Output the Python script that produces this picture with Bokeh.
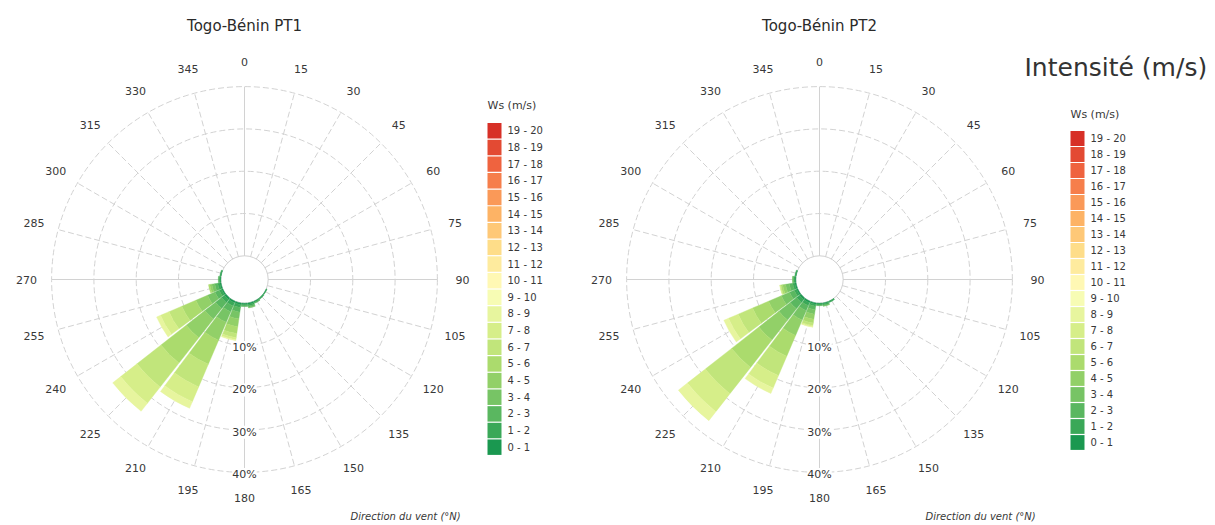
import math

from bokeh.core.properties import value
from bokeh.embed import file_html
from bokeh.models import ColumnDataSource, Range1d
from bokeh.plotting import figure
from bokeh.resources import INLINE

# ---------------------------------------------------------------- data ----
speed_bins = ["0 - 1", "1 - 2", "2 - 3", "3 - 4", "4 - 5", "5 - 6", "6 - 7",
              "7 - 8", "8 - 9", "9 - 10", "10 - 11", "11 - 12", "12 - 13",
              "13 - 14", "14 - 15", "15 - 16", "16 - 17", "17 - 18",
              "18 - 19", "19 - 20"]

direction_ticks = list(range(0, 360, 15))
percent_ticks = [10, 20, 30, 40]

# frequency (%) per direction, split by wind-speed bin (0-1, 1-2, ... m/s)
pt1_directions = [120, 135, 150, 165, 180, 195, 210, 225, 240, 255, 270, 285]
pt1_freq = [
    [0.1, 0.1],
    [0.1, 0.2],
    [0.2, 0.2, 0.1],
    [0.3, 0.4, 0.3, 0.2],
    [0.3, 0.3, 0.2],
    [0.4, 0.7, 1.1, 1.6, 1.9, 1.6, 1.0, 0.5, 0.2],
    [0.4, 0.8, 1.5, 2.7, 4.6, 6.2, 5.8, 3.8, 1.7],
    [0.4, 0.9, 1.8, 3.2, 5.6, 7.6, 7.2, 4.9, 2.4],
    [0.3, 0.6, 1.1, 1.9, 3.0, 3.6, 3.3, 2.2, 1.0],
    [0.3, 0.5, 0.7, 0.7, 0.5, 0.3],
    [0.2, 0.2, 0.2],
    [0.1, 0.2],
]

pt2_directions = [150, 165, 180, 195, 210, 225, 240, 255, 270, 285]
pt2_freq = [
    [0.1, 0.2],
    [0.2, 0.3, 0.2, 0.1],
    [0.2, 0.2, 0.2],
    [0.3, 0.5, 0.8, 1.1, 1.2, 0.9, 0.6, 0.3, 0.1],
    [0.4, 0.7, 1.3, 2.4, 4.0, 5.3, 5.0, 3.2, 1.4],
    [0.4, 0.9, 1.9, 3.4, 6.0, 8.2, 7.9, 5.4, 2.7],
    [0.3, 0.6, 1.2, 2.1, 3.3, 4.1, 3.7, 2.5, 1.2],
    [0.3, 0.5, 0.8, 0.9, 0.7, 0.4, 0.2, 0.1],
    [0.2, 0.3, 0.2, 0.1],
    [0.1, 0.2],
]

# --------------------------------------------------------------- style ----
W, H = 1215, 525
PX = 4.23            # screen pixels per percent unit
OFFSET = 5.6         # radius of the central hole, in percent units
HALF_WIDTH = 6.9     # half angular width of a sector bar, degrees
FONT = value("DejaVu Sans")
TEXT = "#383838"
GRID = "#d2d2d2"

anchors = ["#1a9850", "#66bd63", "#a6d96a", "#d9ef8b", "#ffffbf",
           "#fee08b", "#fdae61", "#f46d43", "#d73027"]


def ramp(cols, n):
    rgb = [tuple(int(c[i:i + 2], 16) for i in (1, 3, 5)) for c in cols]
    out = []
    for k in range(n):
        t = k * (len(rgb) - 1) / (n - 1)
        i = min(int(t), len(rgb) - 2)
        f = t - i
        c = [round(a + (b - a) * f) for a, b in zip(rgb[i], rgb[i + 1])]
        out.append("#%02x%02x%02x" % tuple(c))
    return out


palette = ramp(anchors, len(speed_bins))


def X(px):
    return px / PX


def Y(py):
    return (H - py) / PX


p = figure(width=W, height=H, x_range=Range1d(0, W / PX),
           y_range=Range1d(0, H / PX), output_backend="svg",
           toolbar_location=None, min_border=0, x_axis_type=None,
           y_axis_type=None, outline_line_color=None)
p.background_fill_color = "white"
p.border_fill_color = "white"


def rose(cx_px, cy_px, title, directions, freq, legend_left, legend_top,
         legend_step, legend_title_y):
    cx, cy = X(cx_px), Y(cy_px)
    outer = OFFSET + max(percent_ticks)

    # dashed rings
    p.circle(x=[cx] * len(percent_ticks), y=[cy] * len(percent_ticks),
             radius=[OFFSET + t for t in percent_ticks], fill_color=None,
             line_color=GRID, line_width=1, line_dash="6 3")

    # spokes
    solid = dict(x0=[], y0=[], x1=[], y1=[])
    dashed = dict(x0=[], y0=[], x1=[], y1=[])
    for d in direction_ticks:
        s, c = math.sin(math.radians(d)), math.cos(math.radians(d))
        tgt = solid if d % 90 == 0 else dashed
        tgt["x0"].append(cx + OFFSET * s)
        tgt["y0"].append(cy + OFFSET * c)
        tgt["x1"].append(cx + outer * s)
        tgt["y1"].append(cy + outer * c)
    p.segment(source=ColumnDataSource(solid), x0="x0", y0="y0", x1="x1",
              y1="y1", line_color=GRID, line_width=1)
    p.segment(source=ColumnDataSource(dashed), x0="x0", y0="y0", x1="x1",
              y1="y1", line_color=GRID, line_width=1, line_dash="6 3")

    # central hole
    p.circle(x=[cx], y=[cy], radius=[OFFSET], fill_color="white",
             line_color="#c4c4c4", line_width=0.8)

    # stacked sector bars
    seg = dict(x=[], y=[], r0=[], r1=[], a0=[], a1=[], color=[])
    for d, row in zip(directions, freq):
        cum = 0.0
        for j, v in enumerate(row):
            if v <= 0:
                continue
            seg["x"].append(cx)
            seg["y"].append(cy)
            seg["r0"].append(OFFSET + cum)
            seg["r1"].append(OFFSET + cum + v)
            seg["a0"].append(math.radians(90 - d - HALF_WIDTH))
            seg["a1"].append(math.radians(90 - d + HALF_WIDTH))
            seg["color"].append(palette[j])
            cum += v
    p.annular_wedge(source=ColumnDataSource(seg), x="x", y="y",
                    inner_radius="r0", outer_radius="r1", start_angle="a0",
                    end_angle="a1", fill_color="color", line_color="color",
                    line_width=0.4)

    # direction labels
    lab_r = 218 / PX
    p.text(x=[cx + lab_r * math.sin(math.radians(d)) for d in direction_ticks],
           y=[cy + lab_r * math.cos(math.radians(d)) for d in direction_ticks],
           text=[str(d) for d in direction_ticks], text_font=FONT,
           text_font_size="11px", text_color=TEXT, text_align="center",
           text_baseline="middle")

    # percentage labels along the south spoke
    p.text(x=[cx] * len(percent_ticks),
           y=[cy - OFFSET - t - 0.5 for t in percent_ticks],
           text=["%d%%" % t for t in percent_ticks], text_font=FONT,
           text_font_size="11px", text_color=TEXT, text_align="center",
           text_baseline="middle", background_fill_color="white")

    # title and axis caption
    p.text(x=[cx], y=[Y(25)], text=[title], text_font=FONT,
           text_font_size="15px", text_color="#2a2a2a", text_align="center",
           text_baseline="middle")
    p.text(x=[cx + X(106)], y=[Y(516)], text=["Direction du vent (°N)"],
           text_font=FONT, text_font_size="10px", text_font_style="italic",
           text_color=TEXT, text_align="left", text_baseline="middle")

    # colour key
    n = len(speed_bins)
    rows = [n - 1 - j for j in range(n)]
    p.rect(x=[X(legend_left + 7)] * n,
           y=[Y(legend_top + r * legend_step + legend_step / 2) for r in rows],
           width=14 / PX, height=(legend_step - 1.2) / PX,
           fill_color=palette, line_color=None)
    p.text(x=[X(legend_left + 20)] * n,
           y=[Y(legend_top + r * legend_step + legend_step / 2) for r in rows],
           text=speed_bins, text_font=FONT, text_font_size="10px",
           text_color=TEXT, text_align="left", text_baseline="middle")
    p.text(x=[X(legend_left)], y=[Y(legend_title_y)], text=["Ws (m/s)"],
           text_font=FONT, text_font_size="11px", text_color=TEXT,
           text_align="left", text_baseline="middle")


rose(244, 279, "Togo-Bénin PT1", pt1_directions, pt1_freq,
     legend_left=487, legend_top=122, legend_step=16.65, legend_title_y=105)
rose(819, 279, "Togo-Bénin PT2", pt2_directions, pt2_freq,
     legend_left=1070, legend_top=130, legend_step=16.0, legend_title_y=114)

p.text(x=[X(1024)], y=[Y(67)], text=["Intensité (m/s)"], text_font=FONT,
       text_font_size="25px", text_color="#333333", text_align="left",
       text_baseline="middle")

open("out.html", "w").write(file_html(p, INLINE))
